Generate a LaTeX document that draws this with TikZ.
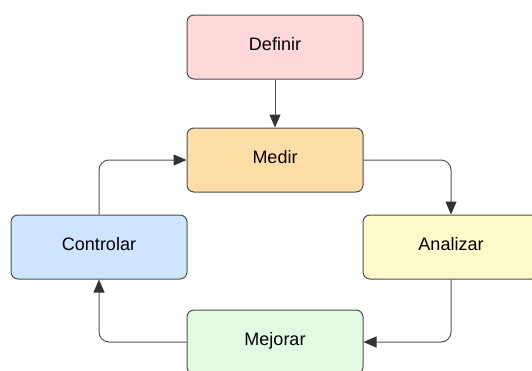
\documentclass[tikz,border=0pt]{standalone}
\usepackage{fontspec}
\setmainfont{Liberation Sans}
\usetikzlibrary{arrows.meta}
\definecolor{edgegray}{HTML}{4D4D4D}
\definecolor{linkgray}{HTML}{555555}
\definecolor{tipgray}{HTML}{333333}
\definecolor{pinkfill}{HTML}{FFD8DA}
\definecolor{orangefill}{HTML}{FFDDA6}
\definecolor{bluefill}{HTML}{CFE4FF}
\definecolor{yellowfill}{HTML}{FFF9CB}
\definecolor{greenfill}{HTML}{E2FAE2}
\tikzset{
  stage/.style={draw=edgegray, line width=1pt, rounded corners=7pt,
    minimum width=176pt, minimum height=64pt, inner sep=0pt,
    text height=12.9pt, text depth=5pt,
    font=\fontsize{18}{21}\selectfont, text=black},
  link/.style={draw=linkgray, line width=1pt, rounded corners=10pt,
    -{Triangle[length=13pt,width=11pt,fill=tipgray,color=tipgray]}}
}
\begin{document}
\begin{tikzpicture}[x=1pt,y=-1pt]
  \useasboundingbox (0,0) rectangle (532,370);
  \node[stage, fill=pinkfill]   (def) at (275,47)  {Definir};
  \node[stage, fill=orangefill] (med) at (275,160) {Medir};
  \node[stage, fill=bluefill]   (con) at (99,247)  {Controlar};
  \node[stage, fill=yellowfill] (ana) at (451,247) {Analizar};
  \node[stage, fill=greenfill]  (mej) at (275,342) {Mejorar};

  \draw[link] (def.south) -- (med.north);
  \draw[link] (med.east) -| (ana.north);
  \draw[link] (ana.south) |- (mej.east);
  \draw[link] (mej.west) -| (con.south);
  \draw[link] (con.north) |- (med.west);
\end{tikzpicture}
\end{document}
